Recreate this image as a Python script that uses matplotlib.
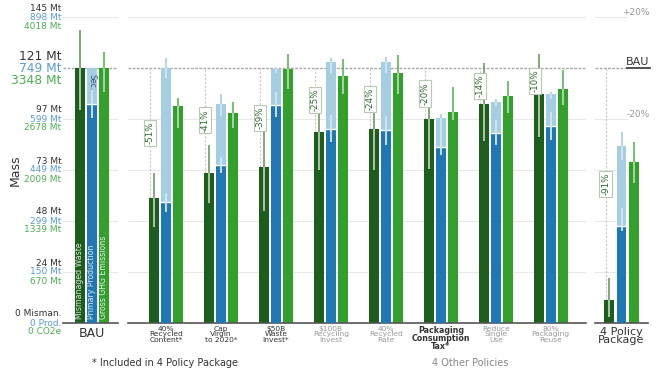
import matplotlib
matplotlib.use('Agg')
import matplotlib.pyplot as plt
import matplotlib.transforms as mtrans

# values as fraction of BAU (BAU = 121 Mt mismanaged, 749 Mt production, 3348 Mt CO2e)
labels = ['BAU', '40%\nRecycled\nContent*', 'Cap\nVirgin\nto 2020*', '\\$50B\nWaste\nInvest*',
          '\\$100B\nRecycling\nInvest', '40%\nRecycled\nRate', 'Packaging\nConsumption\nTax*',
          'Reduce\nSingle\nUse', '80%\nPackaging\nReuse', '4 Policy\nPackage']
label_dark = [True, True, True, True, False, False, True, False, False, True]
pct = ['', '-51%', '-41%', '-39%', '-25%', '-24%', '-20%', '-14%', '-10%', '-91%']

mism = [1.0, 0.49, 0.59, 0.61, 0.75, 0.76, 0.80, 0.86, 0.90, 0.09]
mism_lo = [0.835, 0.376, 0.47, 0.44, 0.60, 0.60, 0.603, 0.714, 0.73, 0.025]
mism_hi = [1.149, 0.59, 0.70, 0.77, 0.92, 0.855, 0.914, 1.02, 1.055, 0.176]

prim = [0.859, 0.476, 0.62, 0.855, 0.76, 0.757, 0.69, 0.745, 0.774, 0.38]
prim_lo = [0.804, 0.436, 0.588, 0.808, 0.711, 0.698, 0.66, 0.698, 0.718, 0.36]
prim_hi = [0.914, 0.511, 0.652, 0.907, 0.816, 0.81, 0.78, 0.796, 0.829, 0.45]

total = [1.0, 1.0, 0.859, 0.996, 1.025, 1.022, 0.803, 0.867, 0.90, 0.694]
total_lo = [1.0, 0.96, 0.81, 0.98, 0.98, 0.98, 0.78, 0.85, 0.88, 0.64]
total_hi = [1.0, 1.04, 0.90, 1.0, 1.04, 1.045, 0.82, 0.88, 0.907, 0.75]

ghg = [1.0, 0.851, 0.822, 0.995, 0.969, 0.979, 0.829, 0.891, 0.918, 0.631]
ghg_lo = [0.907, 0.765, 0.765, 0.918, 0.90, 0.90, 0.796, 0.824, 0.855, 0.55]
ghg_hi = [1.064, 0.882, 0.868, 1.055, 1.035, 1.051, 0.927, 0.949, 0.992, 0.71]

ticks = [0.0, 0.2, 0.4, 0.6, 0.8, 1.0, 1.2]
mt_mism = ['0 Misman.', '24 Mt', '48 Mt', '73 Mt', '97 Mt', '121 Mt', '145 Mt']
mt_prod = ['0 Prod.', '150 Mt', '299 Mt', '449 Mt', '599 Mt', '749 Mt', '898 Mt']
mt_ghg = ['0 CO2e', '670 Mt', '1339 Mt', '2009 Mt', '2678 Mt', '3348 Mt', '4018 Mt']

c_dark = '#1d5e1d'
c_blue = '#1f78b4'
c_light = '#a6cee3'
c_green = '#33a02c'
c_txt = '#333333'
c_gray = '#999999'

fig = plt.figure(figsize=(6.6, 3.7), dpi=100)
bot = 1 - 323 / 370
hgt = (323 - 9.35) / 370
ax1 = fig.add_axes([63 / 660, bot, 55 / 660, hgt])
ax2 = fig.add_axes([128 / 660, bot, 458 / 660, hgt])
ax3 = fig.add_axes([595 / 660, bot, 53 / 660, hgt])
ax1.set_xlim(-0.52, 0.48)
ax2.set_xlim(-0.69, 7.64)
ax3.set_xlim(-0.48, 0.48)

for ax in (ax1, ax2, ax3):
    ax.set_ylim(0, 1.23)
    for s in ['top', 'right', 'left']:
        ax.spines[s].set_visible(False)
    ax.spines['bottom'].set_color('#555555')
    ax.spines['bottom'].set_linewidth(1.2)
    ax.set_xticks([])
    ax.set_yticks([])

# gridlines
for ax, xr in ((ax1, None), (ax2, None), (ax3, 0.1)):
    x0, x1 = ax.get_xlim()
    if xr is not None:
        x1 = xr
    for t in ticks[1:]:
        if t == 1.0:
            ax.plot([x0, x1], [t, t], color='#aaaaaa', lw=1, ls=(0, (2, 1)), zorder=0)
        else:
            ax.plot([x0, x1], [t, t], color='#e8e8e8', lw=0.8, zorder=0)

off = 0.218
w = 0.18


def errline(ax, x, lo, hi, top, col):
    if hi <= lo:
        return
    ax.plot([x, x], [lo, hi], color=col, lw=1.2, zorder=4, solid_capstyle='butt')
    if lo < top:
        ax.plot([x, x], [lo, min(hi, top)], color='white', alpha=0.55, lw=1.2, zorder=5,
                solid_capstyle='butt')


def group(ax, x, i):
    ax.bar(x - off, mism[i], w, color=c_dark, zorder=2)
    ax.bar(x, total[i], w, color=c_light, zorder=2)
    ax.bar(x, prim[i], w, color=c_blue, zorder=3)
    ax.plot([x - w / 2, x + w / 2], [prim[i], prim[i]], color='white', lw=1, zorder=3)
    ax.bar(x + off, ghg[i], w, color=c_green, zorder=2)
    errline(ax, x - off, mism_lo[i], mism_hi[i], mism[i], '#6f9a62')
    errline(ax, x, total_lo[i], total_hi[i], total[i], c_light)
    errline(ax, x, prim_lo[i], prim_hi[i], total[i], c_light)
    errline(ax, x + off, ghg_lo[i], ghg_hi[i], ghg[i], '#5cb856')
    if pct[i]:
        xd = x - off - 0.07
        ax.plot([xd, xd], [mism[i], 1.0], color='#c8c8c8', lw=0.8, ls=(0, (2, 1.5)), zorder=1)
        ax.text(xd, (mism[i] + 1.0) / 2, pct[i], rotation=90, ha='center', va='center',
                fontsize=6.3, color='#2e6b2e', zorder=6,
                bbox=dict(boxstyle='square,pad=0.2', fc='white', ec='#b8c9b3', lw=0.8))


group(ax1, 0, 0)
for k in range(8):
    group(ax2, k, k + 1)
group(ax3, 0, 9)

# names inside BAU bars
for dx, name in ((-off, 'Mismanaged Waste'), (0, 'Primary Production'), (off, 'Gross GHG Emissions')):
    ax1.text(dx, 0.015, name, rotation=90, ha='center', va='bottom', fontsize=5.6,
             color='white', alpha=0.85, zorder=6)
ax1.text(0, 0.975, 'Sec.', rotation=270, ha='center', va='top', fontsize=5.6,
         color='#3a5a78', zorder=6)

# left axis labels (three scales stacked on each gridline)
tr = mtrans.blended_transform_factory(ax1.transAxes, ax1.transData)
for t, a, b, c in zip(ticks, mt_mism, mt_prod, mt_ghg):
    big = t == 1.0
    fs = 8.8 if big else 6.5
    d = 12 if big else 9
    for s, col, dy in ((a, c_txt, d), (b, '#5b9bd5', 0), (c, '#4caf50', -d)):
        ax1.annotate(s, (-0.03, t), xycoords=tr, xytext=(0, dy), textcoords='offset pixels',
                     ha='right', va='center', fontsize=fs, color=col)

fig.text(15 / 660, 1 - 170 / 370, 'Mass', rotation=90, ha='center', va='center',
         fontsize=9, color=c_txt)

# right labels on package panel
tr3 = mtrans.blended_transform_factory(ax3.transAxes, ax3.transData)
ax3.text(1.03, 1.2, '+20%', transform=tr3, ha='right', va='bottom', fontsize=6.5, color=c_gray)
ax3.text(1.03, 0.8, '-20%', transform=tr3, ha='right', va='bottom', fontsize=6.5, color=c_gray)
ax3.text(1.03, 1.005, 'BAU', transform=tr3, ha='right', va='bottom', fontsize=8, color=c_txt)
ax3.plot([0.6, 1.03], [1.0, 1.0], transform=tr3, color='#444444', lw=1.3, clip_on=False)

# category labels
ax1.text(0, -0.015, labels[0], ha='center', va='top', fontsize=9, color=c_txt)
for k in range(8):
    bold = labels[k + 1].startswith('Packaging')
    ax2.text(k, -0.01, labels[k + 1], ha='center', va='top',
             fontsize=5.7 if bold else 5.4, linespacing=0.92,
             fontweight='semibold' if bold else 'normal',
             color=c_txt if label_dark[k + 1] else c_gray)
ax3.text(0, -0.015, labels[9], ha='center', va='top', fontsize=8, linespacing=0.8, color=c_txt)

fig.text(92 / 660, 1 - 363 / 370, '* Included in 4 Policy Package', ha='left', va='center',
         fontsize=7, color=c_txt)
fig.text(470 / 660, 1 - 363 / 370, '4 Other Policies', ha='center', va='center',
         fontsize=7, color='#888888')

fig.savefig('out.png', dpi=100)
